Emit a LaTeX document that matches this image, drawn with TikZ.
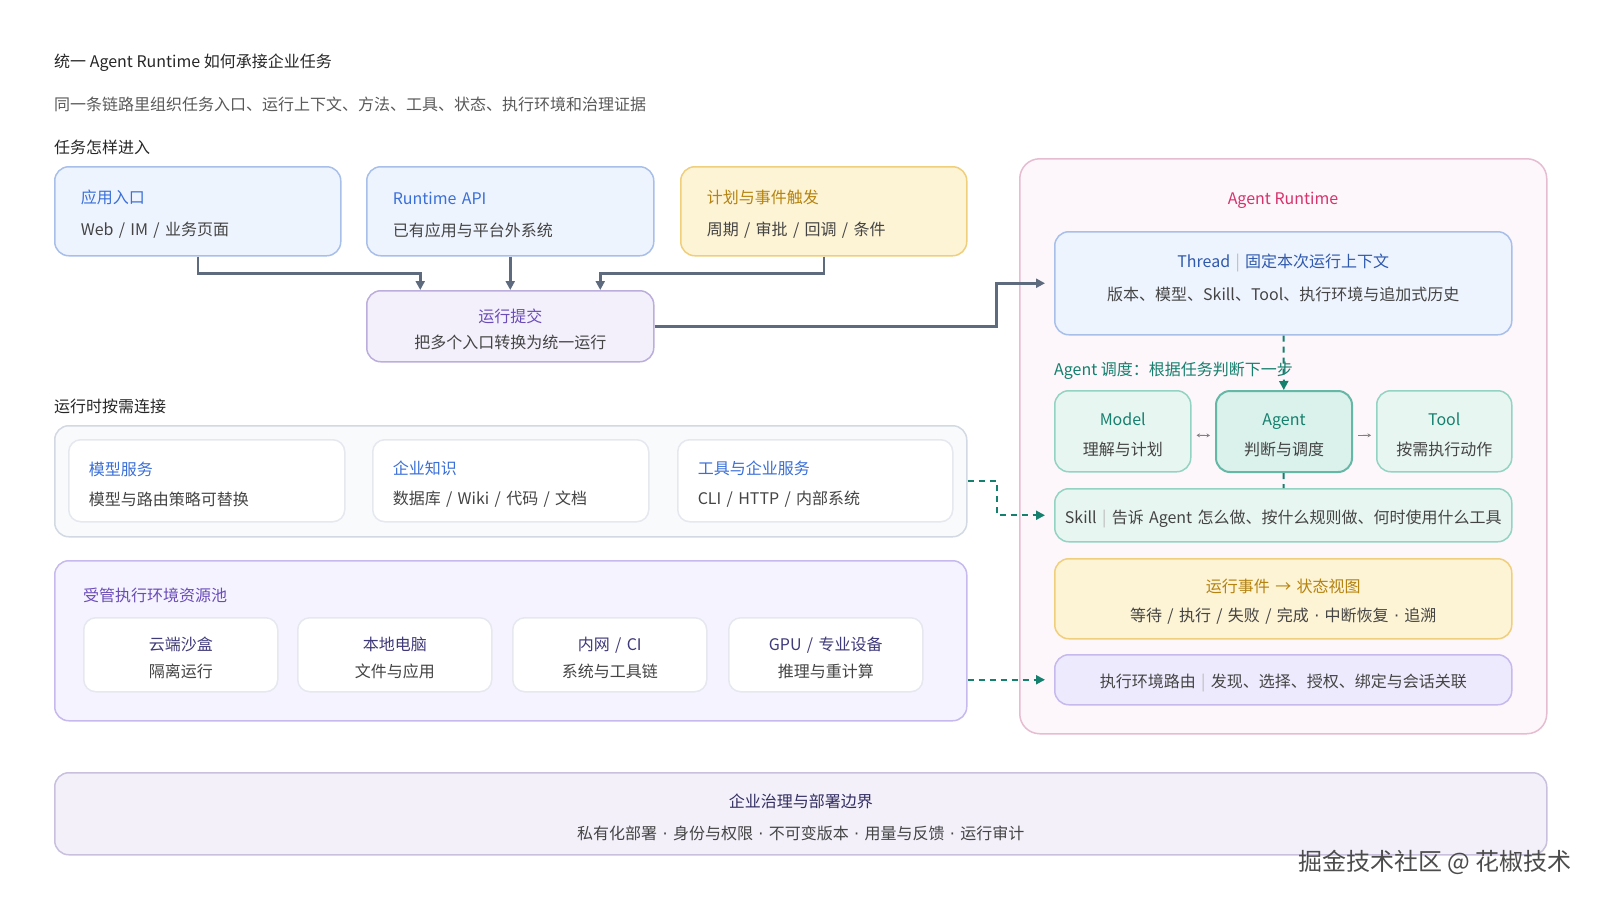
\documentclass[tikz,border=0pt]{standalone}
\usepackage{fontspec}
\setmainfont{Noto Sans CJK SC}
\newfontfamily\dotfont{DejaVu Sans}
\usetikzlibrary{arrows.meta,positioning}

\definecolor{slate}{HTML}{5E6A7E}
\definecolor{tealdk}{HTML}{16806E}
\definecolor{bluetxt}{HTML}{3A6FD8}
\definecolor{bluefill}{HTML}{EEF4FE}
\definecolor{blueline}{HTML}{A8BFEA}
\definecolor{goldfill}{HTML}{FDF3D5}
\definecolor{goldline}{HTML}{F0CF7C}
\definecolor{goldtxt}{HTML}{B5830F}
\definecolor{lilacfill}{HTML}{F4F0FB}
\definecolor{lilacline}{HTML}{BBAEDC}
\definecolor{lilactxt}{HTML}{6A4CB8}
\definecolor{greyfill}{HTML}{F8FAFC}
\definecolor{greyline}{HTML}{D3D9E2}
\definecolor{cardline}{HTML}{E5E8EE}
\definecolor{poolfill}{HTML}{F5F3FF}
\definecolor{poolline}{HTML}{C6B9EE}
\definecolor{pooltxt}{HTML}{3F3A7A}
\definecolor{pinkfill}{HTML}{FDF6FA}
\definecolor{pinkline}{HTML}{E6BCD0}
\definecolor{pinktxt}{HTML}{D6336C}
\definecolor{mintfill}{HTML}{E8F6F2}
\definecolor{mintline}{HTML}{93D3C2}
\definecolor{mintdark}{HTML}{DAF1EC}
\definecolor{mintedge}{HTML}{66B8A6}
\definecolor{routefill}{HTML}{EEEAFD}
\definecolor{govfill}{HTML}{F3F0FA}
\definecolor{govline}{HTML}{C8C0DC}
\definecolor{bodytxt}{HTML}{444444}
\definecolor{septxt}{HTML}{BBBBBB}

\newcommand{\mdot}{{\dotfont ·}}

\begin{document}
\begin{tikzpicture}[x=1pt, y=-1pt,
    every node/.style={font=\fontsize{16}{20}\selectfont, text=bodytxt},
    down/.style={execute at begin node={\rule{0pt}{20pt}}},
    box/.style={draw, line width=1.5pt, rounded corners=14pt, anchor=north west, inner sep=0pt, down},
    mid/.style={align=center, text width=#1, minimum width=#1},
    lbl/.style={anchor=west, inner xsep=0pt, down},
    flow/.style={slate, line width=2.5pt, -{Triangle[length=9pt,width=9pt]}},
    flowdash/.style={tealdk, line width=2pt, dash pattern=on 6pt off 5pt, -{Triangle[length=9pt,width=9pt]}}]
    \useasboundingbox (0,0) rectangle (1600,900);

    % headings
    \node[lbl, text=black!85] (title) at (54,59) {统一 Agent Runtime 如何承接企业任务};
    \node[lbl, text=black!65] (subtitle) at (54,101) {同一条链路里组织任务入口、运行上下文、方法、工具、状态、执行环境和治理证据};
    \node[lbl, text=black!85] (secin) at (54,144) {任务怎样进入};
    \node[lbl, text=black!85] (secconn) at (54,403) {运行时按需连接};

    % entries
    \node[box, draw=blueline, fill=bluefill, minimum width=286pt, minimum height=89pt, text width=234pt, inner xsep=26pt, align=left] (app) at (54,166) {{\color{bluetxt}应用入口}\\[12pt]Web / IM / 业务页面};
    \node[box, draw=blueline, fill=bluefill, minimum width=287pt, minimum height=89pt, text width=235pt, inner xsep=26pt, align=left] (api) at (366,166) {{\color{bluetxt}Runtime API}\\[12pt]已有应用与平台外系统};
    \node[box, draw=goldline, fill=goldfill, minimum width=286pt, minimum height=89pt, text width=234pt, inner xsep=26pt, align=left] (sched) at (680,166) {{\color{goldtxt}计划与事件触发}\\[12pt]周期 / 审批 / 回调 / 条件};
    \node[box, draw=lilacline, fill=lilacfill, mid=287pt, minimum height=71pt] (submit) at (366,290) {{\color{lilactxt}运行提交}\\[6pt]把多个入口转换为统一运行};

    % connected services
    \node[box, draw=greyline, fill=greyfill, minimum width=912pt, minimum height=111pt] (conn) at (54,425) {};
    \node[box, draw=cardline, fill=white, rounded corners=12pt, minimum width=276pt, minimum height=82pt, text width=236pt, inner xsep=20pt, align=left] (models) at (68,439) {{\color{bluetxt}模型服务}\\[10pt]模型与路由策略可替换};
    \node[box, draw=cardline, fill=white, rounded corners=12pt, minimum width=276pt, minimum height=82pt, text width=236pt, inner xsep=20pt, align=left] (knowledge) at (372,439) {{\color{bluetxt}企业知识}\\[10pt]数据库 / Wiki / 代码 / 文档};
    \node[box, draw=cardline, fill=white, rounded corners=12pt, minimum width=275pt, minimum height=82pt, text width=235pt, inner xsep=20pt, align=left] (tools) at (677,439) {{\color{bluetxt}工具与企业服务}\\[10pt]CLI / HTTP / 内部系统};

    % execution pool
    \node[box, draw=poolline, fill=poolfill, minimum width=912pt, minimum height=160pt] (pool) at (54,560) {};
    \node[lbl, text=lilactxt] (poollbl) at (83,592) {受管执行环境资源池};
    \node[box, draw=cardline, fill=white, rounded corners=12pt, mid=194pt, minimum height=74pt] (cloud) at (83,617) {{\color{pooltxt}云端沙盒}\\[7pt]隔离运行};
    \node[box, draw=cardline, fill=white, rounded corners=12pt, mid=194pt, minimum height=74pt] (local) at (297,617) {{\color{pooltxt}本地电脑}\\[7pt]文件与应用};
    \node[box, draw=cardline, fill=white, rounded corners=12pt, mid=194pt, minimum height=74pt] (intra) at (512,617) {{\color{pooltxt}内网 / CI}\\[7pt]系统与工具链};
    \node[box, draw=cardline, fill=white, rounded corners=12pt, mid=194pt, minimum height=74pt] (gpu) at (728,617) {{\color{pooltxt}GPU / 专业设备}\\[7pt]推理与重计算};

    % agent runtime
    \node[box, draw=pinkline, fill=pinkfill, rounded corners=20pt, minimum width=527pt, minimum height=575pt] (runtime) at (1019,158) {};
    \node[text=pinktxt] (rtlbl) at (1283,200) {Agent Runtime};
    \node[box, draw=blueline, fill=bluefill, mid=457pt, minimum height=103pt, execute at begin node={}] (thread) at (1054,231) {{\color{bluetxt!80!black}Thread {\color{septxt}|} 固定本次运行上下文}\\[13pt]版本、模型、Skill、Tool、执行环境与追加式历史\rule[-18pt]{0pt}{1pt}};
    \node[lbl, text=tealdk] (dispatch) at (1054,367) {Agent 调度：根据任务判断下一步};
    \node[box, draw=mintline, fill=mintfill, mid=136pt, minimum height=81pt] (model) at (1054,390) {{\color{tealdk}Model}\\[10pt]理解与计划};
    \node[box, draw=mintedge, fill=mintdark, line width=2pt, mid=136pt, minimum height=81pt] (agent) at (1215,390) {{\color{tealdk}Agent}\\[10pt]判断与调度};
    \node[box, draw=mintline, fill=mintfill, mid=135pt, minimum height=81pt] (tool) at (1376,390) {{\color{tealdk}Tool}\\[10pt]按需执行动作};
    \node[box, draw=mintline, fill=mintfill, mid=457pt, minimum height=53pt] (skill) at (1054,488) {Skill {\color{septxt}|} 告诉 Agent 怎么做、按什么规则做、何时使用什么工具};
    \node[box, draw=goldline, fill=goldfill, mid=457pt, minimum height=80pt] (events) at (1054,558) {{\color{goldtxt}运行事件 → 状态视图}\\[9pt]等待 / 执行 / 失败 / 完成 \mdot{} 中断恢复 \mdot{} 追溯};
    \node[box, draw=poolline, fill=routefill, mid=457pt, minimum height=50pt] (route) at (1054,654) {执行环境路由 {\color{septxt}|} 发现、选择、授权、绑定与会话关联};

    % governance
    \node[box, draw=govline, fill=govfill, mid=1492pt, minimum height=82pt] (gov) at (54,772) {{\color{pooltxt!80!black}企业治理与部署边界}\\[12pt]私有化部署 \mdot{} 身份与权限 \mdot{} 不可变版本 \mdot{} 用量与反馈 \mdot{} 运行审计};
    \node[anchor=east, text=black!70, font=\fontsize{24}{28}\selectfont] (mark) at (1575,862) {掘金技术社区 @ 花椒技术};

    % connectors
    \draw[flow] (app.south) -- ++(0,17) -| ([xshift=-90pt]submit.north);
    \draw[flow] (api) -- (submit);
    \draw[flow] (sched.south) -- ++(0,17) -| ([xshift=90pt]submit.north);
    \draw[flow, shorten >=9pt] (submit.east) -- ++(342,0) |- (thread.west);
    \draw[flowdash, shorten >=9pt] (conn.east) -- ++(29,0) |- (skill.west);
    \draw[flowdash, shorten >=9pt] (pool.east |- route.west) -- (route.west);
    \draw[flowdash] (thread) -- (agent);
    \draw[tealdk, line width=2pt, dash pattern=on 6pt off 5pt] (agent) -- (skill);
    \draw[gray, line width=0.8pt, {Stealth[length=3.5pt,width=4pt]}-{Stealth[length=3.5pt,width=4pt]}, shorten >=5pt, shorten <=5pt] ([yshift=-4pt]model.east) -- ([yshift=-4pt]agent.west);
    \draw[gray, line width=0.8pt, -{Stealth[length=3.5pt,width=4pt]}, shorten >=5pt, shorten <=5pt] ([yshift=-4pt]agent.east) -- ([yshift=-4pt]tool.west);
\end{tikzpicture}
\end{document}
